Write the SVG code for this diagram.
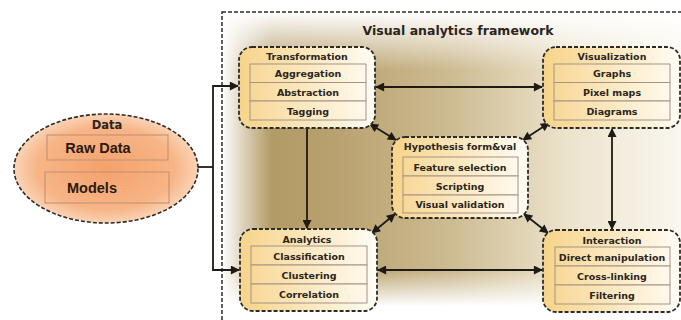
<svg xmlns="http://www.w3.org/2000/svg" width="681" height="320" viewBox="0 0 681 320">
<defs>
<style>
.t{font-family:"DejaVu Sans",Verdana,sans-serif;font-weight:bold;font-size:9.5px;fill:#2b2520;text-anchor:middle}
.d{font-family:"Liberation Sans",Arial,sans-serif;font-weight:bold;font-size:14.5px;fill:#2b1a10;text-anchor:middle}
.box{fill:url(#nodeG);stroke:#2e2a26;stroke-width:1.8;stroke-dasharray:4 2}
.row{fill:url(#rowG);stroke:#a39486;stroke-width:1}
.c{fill:none;stroke:#1e1a16;stroke-width:1.8}
.dbl{marker-start:url(#ah);marker-end:url(#ah)}
.one{marker-end:url(#ah)}
.drow{fill:none;stroke:#c99474;stroke-width:1.2}
</style>
<marker id="ah" viewBox="0 0 10 10" refX="9" refY="5" markerUnits="userSpaceOnUse" markerWidth="10" markerHeight="9" orient="auto-start-reverse">
<path d="M0,0 L10,5 L0,10 z" fill="#1e1a16"/>
</marker>
<linearGradient id="nodeG" x1="0" y1="0" x2="1" y2="0">
<stop offset="0" stop-color="#f7d48a"/>
<stop offset="0.55" stop-color="#fbe9c2"/>
<stop offset="1" stop-color="#fffdf6"/>
</linearGradient>
<linearGradient id="rowG" x1="0" y1="0" x2="1" y2="0">
<stop offset="0" stop-color="#f8d898"/>
<stop offset="1" stop-color="#fff9ec"/>
</linearGradient>
<linearGradient id="bgG" x1="222" y1="0" x2="681" y2="0" gradientUnits="userSpaceOnUse">
<stop offset="0" stop-color="#ad945c"/>
<stop offset="0.25" stop-color="#b9a270"/>
<stop offset="0.5" stop-color="#cdbb92"/>
<stop offset="0.75" stop-color="#ece3cc"/>
<stop offset="1" stop-color="#faf7ef"/>
</linearGradient>
<linearGradient id="topF" x1="0" y1="12" x2="0" y2="70" gradientUnits="userSpaceOnUse">
<stop offset="0" stop-color="#ffffff" stop-opacity="1"/>
<stop offset="1" stop-color="#ffffff" stop-opacity="0"/>
</linearGradient>
<linearGradient id="leftF" x1="222" y1="0" x2="272" y2="0" gradientUnits="userSpaceOnUse">
<stop offset="0" stop-color="#ffffff" stop-opacity="1"/>
<stop offset="1" stop-color="#ffffff" stop-opacity="0"/>
</linearGradient>
<linearGradient id="botF" x1="0" y1="272" x2="0" y2="306" gradientUnits="userSpaceOnUse">
<stop offset="0" stop-color="#ffffff" stop-opacity="0"/>
<stop offset="1" stop-color="#ffffff" stop-opacity="1"/>
</linearGradient>
<radialGradient id="ellG" cx="0.5" cy="0.5" r="0.5">
<stop offset="0" stop-color="#f5a16c"/>
<stop offset="0.75" stop-color="#f7b587"/>
<stop offset="1" stop-color="#fbd3b6"/>
</radialGradient>
</defs>
<rect width="681" height="320" fill="#ffffff"/>
<g id="framework">
<rect x="222" y="12" width="470" height="320" fill="url(#bgG)"/>
<rect x="222" y="12" width="470" height="320" fill="url(#topF)"/>
<rect x="222" y="12" width="470" height="320" fill="url(#leftF)"/>
<rect x="222" y="12" width="470" height="320" fill="url(#botF)"/>
<rect x="222" y="12" width="470" height="320" fill="none" stroke="#2e2a26" stroke-width="1.5" stroke-dasharray="4 2"/>
<text x="458" y="35" class="t" style="font-size:12.5px">Visual analytics framework</text>
</g>
<g id="connectors">
<path class="c" d="M198,167 H213"/>
<path class="c one" d="M213,167 V86 H238"/>
<path class="c one" d="M213,167 V270 H239"/>
<path class="c dbl" d="M376,87 H542"/>
<path class="c dbl" d="M378,270 H542"/>
<path class="c one" d="M307,129 V228"/>
<path class="c dbl" d="M612,129 V229"/>
<path class="c dbl" d="M370,124 L396,140"/>
<path class="c dbl" d="M549,123 L523,140"/>
<path class="c dbl" d="M395,214 L372,233"/>
<path class="c dbl" d="M524,214 L548,233"/>
</g>
<g id="data">
<ellipse cx="106" cy="168.5" rx="92" ry="54.5" fill="url(#ellG)" stroke="#2e2a26" stroke-width="1.6" stroke-dasharray="4 2"/>
<text x="107" y="129" class="t" style="font-size:11.5px">Data</text>
<rect x="47" y="135" width="121" height="25" class="drow"/>
<text x="98" y="153" class="d">Raw Data</text>
<rect x="45" y="172" width="124" height="31" class="drow"/>
<text x="92" y="193" class="d">Models</text>
</g>
<g id="transformation">
<rect x="239" y="47" width="136" height="81" rx="13" class="box"/>
<text x="307" y="60" class="t">Transformation</text>
<rect x="250" y="64" width="116" height="18.5" class="row"/>
<text x="308" y="77" class="t">Aggregation</text>
<rect x="250" y="82.5" width="116" height="18.5" class="row"/>
<text x="308" y="95.5" class="t">Abstraction</text>
<rect x="250" y="101" width="116" height="19" class="row"/>
<text x="308" y="114.5" class="t">Tagging</text>
</g>
<g id="visualization">
<rect x="543" y="47" width="137" height="81" rx="13" class="box"/>
<text x="612" y="60" class="t">Visualization</text>
<rect x="554" y="64" width="116" height="18.5" class="row"/>
<text x="612" y="77" class="t">Graphs</text>
<rect x="554" y="82.5" width="116" height="18.5" class="row"/>
<text x="612" y="95.5" class="t">Pixel maps</text>
<rect x="554" y="101" width="116" height="19" class="row"/>
<text x="612" y="114.5" class="t">Diagrams</text>
</g>
<g id="hypothesis">
<rect x="392" y="137" width="136" height="81" rx="13" class="box"/>
<text x="460" y="150" class="t">Hypothesis form&amp;val</text>
<rect x="403" y="157" width="115" height="19" class="row"/>
<text x="460" y="170.5" class="t">Feature selection</text>
<rect x="403" y="176" width="115" height="19" class="row"/>
<text x="460" y="189.5" class="t">Scripting</text>
<rect x="403" y="195" width="115" height="18" class="row"/>
<text x="460" y="208" class="t">Visual validation</text>
</g>
<g id="analytics">
<rect x="240" y="229" width="137" height="82" rx="13" class="box"/>
<text x="307" y="243" class="t">Analytics</text>
<rect x="251" y="246" width="116" height="19" class="row"/>
<text x="309" y="259.5" class="t">Classification</text>
<rect x="251" y="265" width="116" height="19" class="row"/>
<text x="309" y="278.5" class="t">Clustering</text>
<rect x="251" y="284" width="116" height="19" class="row"/>
<text x="309" y="297.5" class="t">Correlation</text>
</g>
<g id="interaction">
<rect x="543" y="230" width="137" height="82" rx="13" class="box"/>
<text x="612" y="243.5" class="t">Interaction</text>
<rect x="555" y="247" width="115" height="19" class="row"/>
<text x="612" y="260.5" class="t">Direct manipulation</text>
<rect x="555" y="266" width="115" height="19" class="row"/>
<text x="612" y="279.5" class="t">Cross-linking</text>
<rect x="555" y="285" width="115" height="19" class="row"/>
<text x="612" y="298.5" class="t">Filtering</text>
</g>
</svg>
